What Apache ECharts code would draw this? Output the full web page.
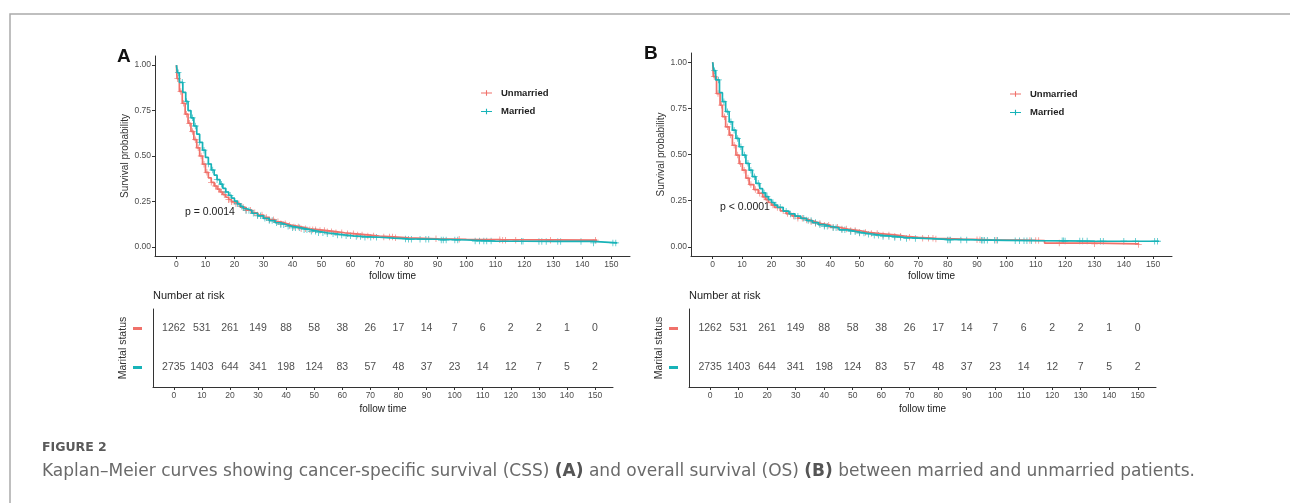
<!DOCTYPE html>
<html><head><meta charset="utf-8">
<script src="https://cdn.jsdelivr.net/npm/echarts@6/dist/echarts.min.js"></script>
<style>html,body{margin:0;padding:0;background:#fff}#c{width:1290px;height:503px}</style>
</head><body><div id="c"></div>
<script>
// ---------- data ----------
const groups = ['Unmarried', 'Married'];
const xTicks = [0,10,20,30,40,50,60,70,80,90,100,110,120,130,140,150];
const yTicks = [0, 0.25, 0.5, 0.75, 1];
const riskTimes = [0,10,20,30,40,50,60,70,80,90,100,110,120,130,140,150];
const riskUnmarried = [1262,531,261,149,88,58,38,26,17,14,7,6,2,2,1,0];
const riskMarried   = [2735,1403,644,341,198,124,83,57,48,37,23,14,12,7,5,2];

// Panel A (CSS)
const A_unm_t = [0,0.2,1,2,3,4,5,6,7,8,9,10,11,12,13,14,15,16,17,18,19,20,22,24,26,28,30,32,34,36,38,40,43,46,49,52,55,58,62,66,70,75,80,90,100,112,145];
const A_unm_s = [1.0,0.925,0.855,0.79,0.73,0.68,0.635,0.59,0.545,0.5,0.455,0.41,0.38,0.355,0.335,0.318,0.302,0.287,0.273,0.26,0.248,0.237,0.218,0.202,0.188,0.175,0.162,0.15,0.138,0.128,0.118,0.11,0.1,0.095,0.09,0.084,0.078,0.072,0.066,0.06,0.055,0.05,0.045,0.042,0.04,0.037,0.037];
const A_unm_cens = [0.4,1.5,2.5,3.5,4.5,5.5,6.5,7.5,8.5,9.5,10.5,12,13.5,14.5,15.5,16.5,18,19,20.5,21.5,23,24,25.5,27,28,29.5,31,32,33.5,35,36,37.5,39,40.5,42,43,44.5,46,47,48,49.5,51,52,53.5,55,57,59,61,62.5,64,66,68,71.5,73.5,74.5,75.5,89.5,97.5,111.5,112.5,113.5,117,129,144.5];
const A_mar_t = [0,0.3,1,2.2,3.2,4,5,6,7,8,9,10,11,12,13,14,15,16,17,18,19,20,21,22,23,24,26,28,30,32,34,36,38,40,43,46,49,52,55,58,61,65,70,75,80,90,100,110,120,130,143.5,152];
const A_mar_s = [1.0,0.958,0.905,0.85,0.8,0.75,0.71,0.665,0.62,0.575,0.532,0.492,0.456,0.423,0.395,0.37,0.345,0.322,0.302,0.284,0.268,0.252,0.237,0.223,0.211,0.2,0.185,0.171,0.157,0.145,0.133,0.122,0.113,0.105,0.095,0.086,0.078,0.072,0.066,0.061,0.057,0.053,0.048,0.044,0.042,0.038,0.032,0.031,0.03,0.03,0.022,0.022];
const A_mar_cens = [0.6,2,3.5,5.5,6.5,8,9.5,11,12.5,14,15.5,17,18.5,20,21,22.5,24,25,26.5,28,29,30.5,32,33,34.5,36,37,38.5,40,41,42.5,44,45,46.5,48,49,50.5,52,54,55.5,57,58.5,60,62,63.5,65,67,69,79,80,81,84,86,87,91.3,92,93,96,97,103,104.5,106,107,108.5,119,119.5,125,126,127.5,131.5,132.5,139.5,143.8,150.5,151.5];

// Panel B (OS)
const B_unm_t = [0,0.2,1.3,2.5,3.3,4.4,5.6,6.7,7.9,9,10.1,11.3,12.4,14,15.5,17,18,19,20,21,23,25,27,29,31,33,35,37,40,43,46,50,53,57,62,66,70,76,85,95,105,113,130,145];
const B_unm_s = [1.0,0.922,0.83,0.767,0.705,0.65,0.605,0.55,0.497,0.45,0.415,0.372,0.337,0.31,0.29,0.27,0.255,0.24,0.226,0.213,0.195,0.18,0.167,0.155,0.145,0.135,0.126,0.117,0.106,0.096,0.088,0.078,0.072,0.064,0.057,0.051,0.046,0.042,0.038,0.036,0.034,0.02,0.016,0.012];
const B_unm_cens = [0.5,1.8,3,4,5,6,7.3,8.5,9.5,10.7,12,13,14.5,16,17.5,18.5,20.5,22,24,25.5,27.5,29,30.5,32,33.5,35,36.5,38,39.5,41,42.5,44,45.5,47,48.5,50,52,54,56,58,60,62,64,67,71.5,73.5,75,76,90,91,96.5,108,110,111,118,130,145];
const B_mar_t = [0,0.3,1,2.3,3.3,4.4,5.6,6.7,7.9,9,10.1,11.3,12.4,13.5,14.7,16,17,18,19,20,21,22,24,26,28,30,32,34,36,38,40,43,46,49,52,55,58,62,66,72,80,90,100,110,120,130,152];
const B_mar_s = [1.0,0.954,0.904,0.835,0.786,0.732,0.677,0.632,0.587,0.542,0.497,0.452,0.415,0.38,0.344,0.315,0.292,0.272,0.255,0.24,0.226,0.214,0.193,0.178,0.166,0.154,0.142,0.131,0.12,0.111,0.103,0.092,0.082,0.074,0.068,0.062,0.056,0.05,0.045,0.04,0.037,0.035,0.033,0.032,0.031,0.03,0.03];
const B_mar_cens = [0.6,2,3.8,5,6.2,7.3,8.5,9.6,10.8,12,13,14.2,15.5,17.5,18.5,20.5,21.5,23,25,26.5,28,29,31,32.5,33.5,35,36.5,38,39,41,42,44,45,47,48.5,50,51.5,53,55,56.5,58,60,62,64,66,69,80,80.5,81,84.5,86.5,91.5,92,92.5,93.5,96,97,103,104.5,106,107,108.5,119,119.5,120,125,126,127.5,132,133,140,144,150.5,151.5];

// ---------- styles ----------
const COL = { Unmarried: '#F0716A', Married: '#17B3B8' };
const FONT = "'Liberation Sans', Arial, sans-serif";
const CAPFONT = "'DejaVu Sans', sans-serif";
const CROSS = 'path://M4.4,0H5.6V4.4H10V5.6H5.6V10H4.4V5.6H0V4.4H4.4Z';
const LEGICON = 'path://M0,3.5H5.4V1H6.6V3.5H12V4.5H6.6V7H5.4V4.5H0Z';

function stepAt(ts, ss, t) {
  let v = ss[0];
  for (let i = 0; i < ts.length; i++) { if (ts[i] <= t) v = ss[i]; else break; }
  return v;
}
function curveSeries(name, ts, ss, cens, axisIdx) {
  return [
    { type: 'line', name, step: 'end', xAxisIndex: axisIdx, yAxisIndex: axisIdx,
      data: ts.map((t, i) => [t, ss[i]]), showSymbol: false, symbol: 'none',
      lineStyle: { color: COL[name], width: 1.7 }, itemStyle: { color: COL[name] },
      silent: true, animation: false },
    { type: 'scatter', name, xAxisIndex: axisIdx, yAxisIndex: axisIdx,
      data: cens.map(t => [t, stepAt(ts, ss, t)]), symbol: CROSS, symbolSize: 6.5,
      itemStyle: { color: COL[name] }, silent: true, animation: false }
  ];
}
function riskSeries(axisIdx) {
  const d = [];
  riskTimes.forEach((t, i) => {
    d.push([t, 'Unmarried', riskUnmarried[i]]);
    d.push([t, 'Married', riskMarried[i]]);
  });
  return { type: 'scatter', xAxisIndex: axisIdx, yAxisIndex: axisIdx, data: d,
    symbol: 'circle', symbolSize: 1, itemStyle: { color: 'rgba(0,0,0,0)' }, silent: true, animation: false,
    label: { show: true, position: 'inside', formatter: p => String(p.value[2]),
      fontFamily: "'Liberation Sans Narrow', 'Liberation Sans', Arial, sans-serif", fontSize: 10.5, color: '#222' } };
}

function plotX(grid, gap) {
  return { type: 'value', gridIndex: grid, min: -7.4, max: 156.4,
    axisLine: { show: true, onZero: false, lineStyle: { color: '#333', width: 1 } },
    axisTick: { show: true, length: 3, customValues: xTicks, lineStyle: { color: '#333' } },
    axisLabel: { customValues: xTicks, fontSize: 8.5, color: '#4d4d4d', margin: 4, fontFamily: FONT },
    splitLine: { show: false },
    name: 'follow time', nameLocation: 'middle', nameGap: gap,
    nameTextStyle: { fontSize: 10, color: '#222', fontFamily: FONT } };
}
function plotY(grid) {
  return { type: 'value', gridIndex: grid, min: -0.05, max: 1.05,
    axisLine: { show: true, onZero: false, lineStyle: { color: '#333', width: 1 } },
    axisTick: { show: true, length: 3, customValues: yTicks, lineStyle: { color: '#333' } },
    axisLabel: { customValues: yTicks, formatter: v => v.toFixed(2), fontSize: 8.5, color: '#4d4d4d', margin: 4, fontFamily: FONT },
    splitLine: { show: false },
    name: 'Survival probability', nameLocation: 'middle', nameGap: 24,
    nameTextStyle: { fontSize: 10, color: '#333', fontFamily: FONT } };
}
function tableY(grid) {
  return { type: 'category', gridIndex: grid, data: ['Married', 'Unmarried'], boundaryGap: true,
    axisLine: { show: true, onZero: false, lineStyle: { color: '#333', width: 1 } },
    axisTick: { show: false },
    axisLabel: { margin: 11, formatter: v => '{' + (v === 'Married' ? 'm' : 'u') + '|}',
      rich: { u: { backgroundColor: COL.Unmarried, width: 9, height: 3 },
              m: { backgroundColor: COL.Married, width: 9, height: 3 } } },
    name: 'Marital status', nameLocation: 'middle', nameGap: 22,
    nameTextStyle: { fontSize: 10.5, color: '#333', fontFamily: FONT } };
}
function legendAt(left, top) {
  return { left, top, orient: 'vertical', itemWidth: 11, itemHeight: 7, itemGap: 8.5,
    selectedMode: false,
    data: [{ name: 'Unmarried', icon: LEGICON }, { name: 'Married', icon: LEGICON }],
    textStyle: { fontSize: 9.5, fontWeight: 'bold', color: '#222', fontFamily: FONT, padding: [0,0,0,4] } };
}

const option = {
  backgroundColor: '#fff',
  animation: false,
  grid: [
    { left: 155, top: 56, width: 475, height: 200 },
    { left: 153, top: 309, width: 460, height: 78 },
    { left: 691, top: 53, width: 481, height: 203 },
    { left: 689, top: 309, width: 467, height: 78 }
  ],
  xAxis: [plotX(0, 15), plotX(1, 17), plotX(2, 15), plotX(3, 17)],
  yAxis: [plotY(0), tableY(1), plotY(2), tableY(3)],
  legend: [legendAt(476, 83), legendAt(1005, 84)],
  series: [
    ...curveSeries('Unmarried', A_unm_t, A_unm_s, A_unm_cens, 0),
    ...curveSeries('Married', A_mar_t, A_mar_s, A_mar_cens, 0),
    riskSeries(1),
    ...curveSeries('Unmarried', B_unm_t, B_unm_s, B_unm_cens, 2),
    ...curveSeries('Married', B_mar_t, B_mar_s, B_mar_cens, 2),
    riskSeries(3)
  ],
  graphic: [
    { type: 'rect', shape: { x: 10, y: 14, width: 1400, height: 600 },
      style: { fill: 'none', stroke: '#ababab', lineWidth: 1.5 }, silent: true },
    { type: 'text', x: 117, y: 47, style: { text: 'A', fontSize: 19, fontWeight: 'bold', fontFamily: FONT, fill: '#111' } },
    { type: 'text', x: 644, y: 44, style: { text: 'B', fontSize: 19, fontWeight: 'bold', fontFamily: FONT, fill: '#111' } },
    { type: 'text', x: 185, y: 207, style: { text: 'p = 0.0014', fontSize: 10.5, fontFamily: FONT, fill: '#222' } },
    { type: 'text', x: 720, y: 202, style: { text: 'p < 0.0001', fontSize: 10.5, fontFamily: FONT, fill: '#222' } },
    { type: 'text', x: 153, y: 290, style: { text: 'Number at risk', fontSize: 11, fontFamily: FONT, fill: '#222' } },
    { type: 'text', x: 689, y: 290, style: { text: 'Number at risk', fontSize: 11, fontFamily: FONT, fill: '#222' } },
    { type: 'text', x: 42, y: 441, style: { text: 'FIGURE 2', fontSize: 12.5, fontWeight: 'bold', fontFamily: CAPFONT, fill: '#5a5a5a' } },
    { type: 'text', x: 42, y: 463, style: {
        text: 'Kaplan\u2013Meier curves showing cancer-specific survival (CSS) {b|(A)} and overall survival (OS) {b|(B)} between married and unmarried patients.',
        fontSize: 17, fontFamily: CAPFONT, fill: '#6a6a6a',
        rich: { b: { fontSize: 17, fontWeight: 'bold', fontFamily: CAPFONT, fill: '#555' } } } }
  ]
};
const chart = echarts.init(document.getElementById('c'), null, { renderer: 'canvas' });
chart.setOption(option);
</script>
</body></html>
